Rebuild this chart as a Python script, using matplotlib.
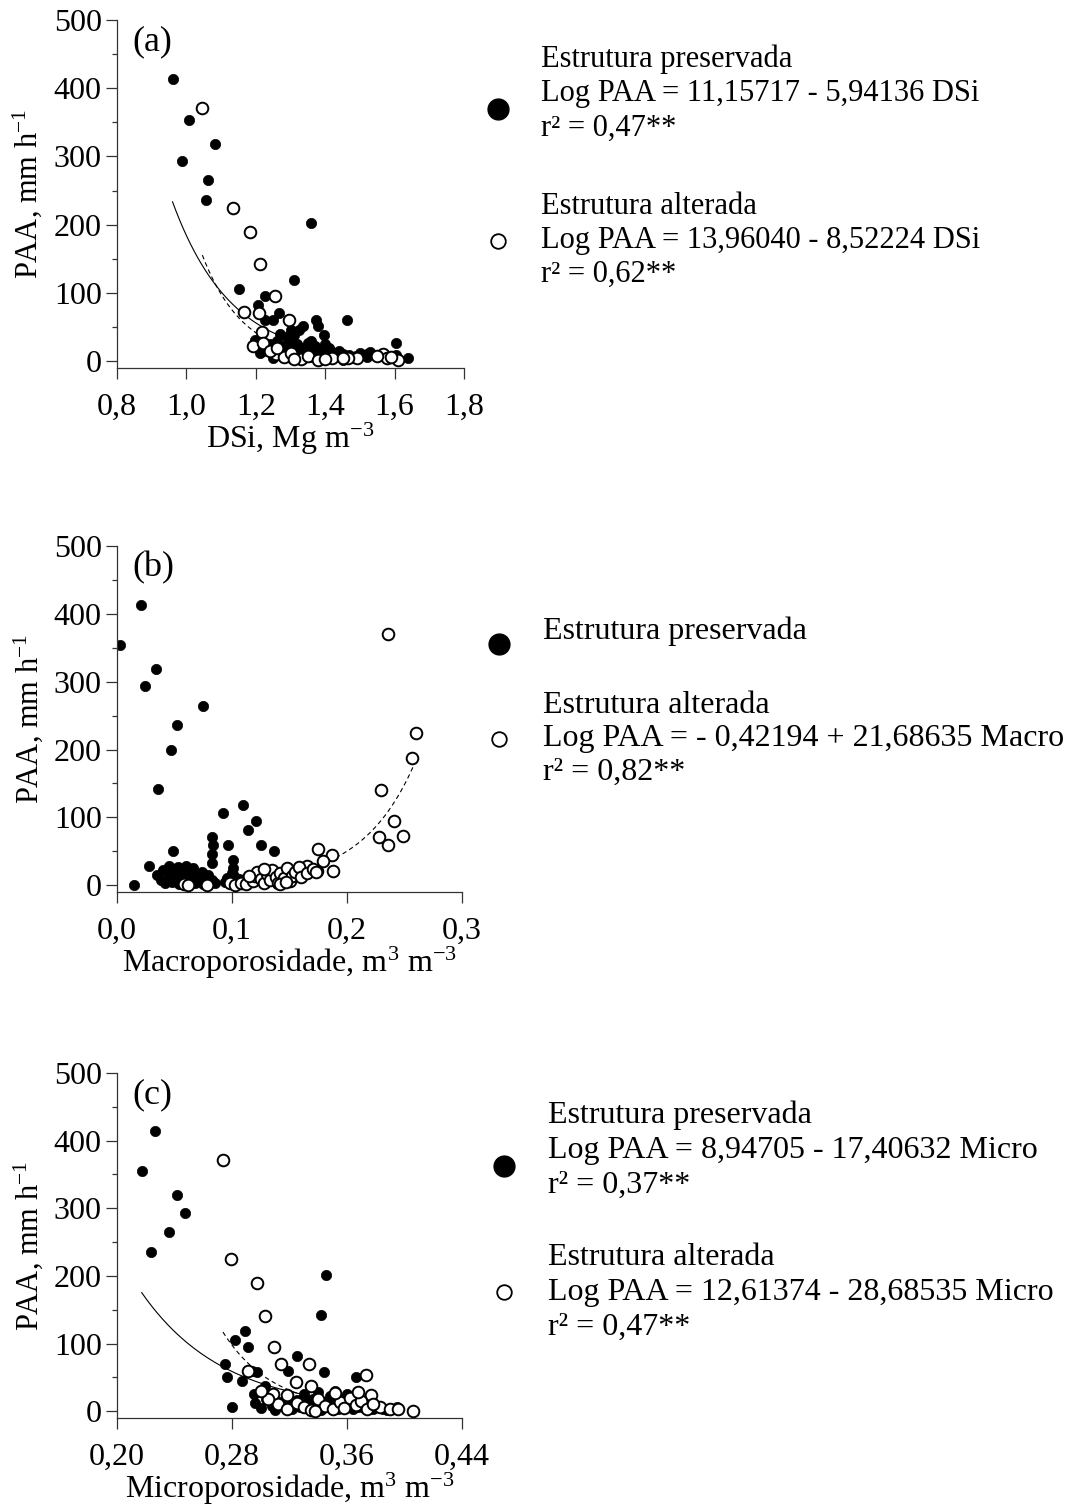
import numpy as np
import matplotlib
matplotlib.use("Agg")
import matplotlib.pyplot as plt
from matplotlib.lines import Line2D
from matplotlib.legend_handler import HandlerLine2D

plt.rcParams["font.family"] = ["Liberation Serif", "DejaVu Serif"]
plt.rcParams["mathtext.fontset"] = "custom"
plt.rcParams["mathtext.rm"] = "Liberation Serif"
plt.rcParams["mathtext.it"] = "Liberation Serif:italic"

# (a) densidade do solo - estrutura preservada
dsi_pres = [0.960, 1.007, 1.082, 0.986, 1.061, 1.056, 1.360, 1.309, 1.152, 1.226,
            1.206, 1.267, 1.462, 1.373, 1.379, 1.335, 1.325, 1.397, 1.227, 1.250,
            1.604, 1.604, 1.640, 1.299, 1.198, 1.212,
            1.24, 1.25, 1.26, 1.27, 1.28, 1.28, 1.29, 1.30, 1.30, 1.31, 1.31, 1.32,
            1.32, 1.33, 1.33, 1.34, 1.34, 1.35, 1.35, 1.36, 1.36, 1.37, 1.37, 1.38,
            1.38, 1.39, 1.39, 1.40, 1.40, 1.41, 1.41, 1.42, 1.42, 1.43, 1.44, 1.44,
            1.45, 1.46, 1.47, 1.48, 1.49, 1.50, 1.52, 1.53, 1.27, 1.29, 1.31, 1.36,
            1.40, 1.22, 1.25, 1.45, 1.30, 1.52, 1.60]
paa_a_pres = [413, 354, 319, 293, 265, 236, 202, 119, 106, 95,
              82, 71, 60, 60, 52, 51, 45, 39, 60, 60,
              27, 9, 4, 38, 31, 12,
              25, 18, 30, 12, 22, 8, 15, 28, 5, 18, 10, 25,
              3, 14, 8, 20, 4, 12, 26, 6, 16, 10, 22, 3,
              14, 8, 18, 12, 5, 20, 9, 14, 4, 10, 7, 15,
              11, 6, 9, 4, 8, 12, 6, 14, 40, 35, 38, 30,
              25, 15, 5, 2, 45, 10, 8]

# (a) densidade do solo - estrutura alterada
dsi_alt = [1.046, 1.135, 1.183, 1.211, 1.254, 1.166, 1.295, 1.209, 1.219, 1.193,
           1.567, 1.577, 1.611, 1.491, 1.467, 1.257, 1.222,
           1.24, 1.28, 1.33, 1.35, 1.38, 1.42, 1.30, 1.26, 1.40, 1.45, 1.31,
           1.55, 1.59]
paa_a_alt = [371, 225, 189, 142, 95, 72, 60, 71, 43, 22,
             10, 4, 2, 4, 4, 10, 26,
             15, 6, 3, 8, 2, 5, 12, 20, 3, 5, 3,
             7, 6]

# (b) macroporosidade - estrutura preservada
macro_pres = [0.0026, 0.0209, 0.0336, 0.0243, 0.0748, 0.0522, 0.0472, 0.0357,
              0.1098, 0.0924, 0.1211, 0.1139, 0.0823, 0.0838, 0.0968, 0.1255,
              0.1365, 0.0484, 0.0823, 0.0823, 0.1006, 0.0281, 0.0150, 0.1011,
              0.035, 0.038, 0.040, 0.042, 0.045, 0.047, 0.048, 0.050, 0.052,
              0.054, 0.055, 0.057, 0.058, 0.060, 0.062, 0.063, 0.065, 0.066,
              0.068, 0.070, 0.072, 0.074, 0.075, 0.077, 0.079, 0.080, 0.083,
              0.085, 0.045, 0.060, 0.053,
              0.094, 0.096, 0.098, 0.100, 0.102, 0.104, 0.106, 0.108, 0.110,
              0.112, 0.114, 0.100]
paa_b_pres = [354, 413, 319, 293, 264, 236, 200, 142,
              118, 106, 94, 81, 71, 59, 59, 59,
              50, 50, 46, 33, 37, 29, 0, 26,
              15, 8, 22, 3, 12, 25, 5, 18, 9,
              2, 14, 22, 6, 11, 3, 17, 8, 25,
              4, 13, 7, 20, 2, 10, 15, 5, 8,
              3, 28, 28, 27,
              5, 10, 3, 8, 14, 4, 9, 2, 6,
              10, 4, 18]

# (b) macroporosidade - estrutura alterada
macro_alt = [0.2359, 0.2597, 0.2568, 0.2296, 0.2406, 0.2278, 0.2484, 0.2359,
             0.1748, 0.1867, 0.1794, 0.1881, 0.1737, 0.165,
             0.058, 0.062, 0.078, 0.098, 0.103, 0.108, 0.112, 0.118, 0.120,
             0.122, 0.125, 0.128, 0.130, 0.133, 0.135, 0.138, 0.140, 0.142,
             0.145, 0.148, 0.150, 0.152, 0.155, 0.158, 0.160, 0.128, 0.115,
             0.165, 0.170, 0.173, 0.142, 0.147]
paa_b_alt = [370, 224, 188, 141, 94, 71, 72, 59,
             53, 45, 36, 21, 21, 29,
             2, 0, 1, 3, 1, 4, 2, 6, 14,
             20, 9, 3, 16, 8, 22, 12, 4, 18,
             10, 25, 6, 14, 20, 27, 12, 24, 13,
             18, 24, 20, 2, 5]

# (c) microporosidade - estrutura preservada
micro_pres = [0.2264, 0.2172, 0.2417, 0.2473, 0.2362, 0.2234, 0.3454, 0.3417,
              0.2890, 0.2821, 0.2911, 0.3254, 0.2749, 0.2763, 0.3187, 0.3442,
              0.3660, 0.2937, 0.2972, 0.2867, 0.3030, 0.2953, 0.2798,
              0.296, 0.300, 0.304, 0.308, 0.310, 0.313, 0.316, 0.318, 0.320,
              0.322, 0.325, 0.327, 0.330, 0.332, 0.334, 0.336, 0.338, 0.340,
              0.342, 0.344, 0.346, 0.348, 0.350, 0.352, 0.354, 0.356, 0.358,
              0.360, 0.362, 0.364, 0.366, 0.368, 0.370, 0.372, 0.375, 0.378,
              0.380, 0.385, 0.388, 0.392, 0.395]
paa_c_pres = [415, 355, 319, 293, 265, 236, 201, 142,
              119, 106, 95, 81, 70, 50, 59, 58,
              51, 59, 58, 45, 38, 26, 6,
              12, 5, 18, 8, 2, 14, 6, 22, 10,
              3, 16, 7, 25, 12, 4, 18, 9, 28,
              2, 14, 6, 22, 10, 30, 4, 16, 8,
              25, 12, 3, 18, 7, 14, 5, 10, 3,
              8, 4, 2, 3, 6]

# (c) microporosidade - estrutura alterada
micro_alt = [0.2737, 0.2795, 0.2974, 0.3027, 0.3092, 0.3139, 0.3334, 0.2909,
             0.3243, 0.3347, 0.3730, 0.3088, 0.3180, 0.3770, 0.383, 0.390,
             0.3956, 0.4061,
             0.312, 0.318, 0.325, 0.330, 0.335, 0.340, 0.345, 0.350, 0.355,
             0.358, 0.362, 0.366, 0.370, 0.374, 0.378, 0.305, 0.300, 0.338,
             0.352, 0.368]
paa_c_alt = [372, 225, 189, 141, 95, 70, 70, 59,
             43, 37, 53, 26, 24, 24, 6, 4,
             4, 1,
             10, 4, 12, 6, 2, 18, 8, 3, 14,
             5, 20, 9, 15, 4, 11, 18, 30, 0,
             27, 28]

# modelos ajustados: ln PAA = a + b x
coef_a_pres = (11.15717, -5.94136)
coef_a_alt = (13.96040, -8.52224)
coef_b_alt = (-0.42194, 21.68635)
coef_c_pres = (8.94705, -17.40632)
coef_c_alt = (12.61374, -28.68535)

xticks_a = [0.8, 1.0, 1.2, 1.4, 1.6, 1.8]
xticklabels_a = ["0,8", "1,0", "1,2", "1,4", "1,6", "1,8"]
xticks_b = [0.0, 0.1, 0.2, 0.3]
xticklabels_b = ["0,0", "0,1", "0,2", "0,3"]
xticks_c = [0.20, 0.28, 0.36, 0.44]
xticklabels_c = ["0,20", "0,28", "0,36", "0,44"]
yticks = [0, 100, 200, 300, 400, 500]

leg_a = ["Estrutura preservada\nLog PAA = 11,15717 - 5,94136 DSi\nr² = 0,47**",
         "Estrutura alterada\nLog PAA = 13,96040 - 8,52224 DSi\nr² = 0,62**"]
leg_b = ["Estrutura preservada",
         "Estrutura alterada\nLog PAA = - 0,42194 + 21,68635 Macro\nr² = 0,82**"]
leg_c = ["Estrutura preservada\nLog PAA = 8,94705 - 17,40632 Micro\nr² = 0,37**",
         "Estrutura alterada\nLog PAA = 12,61374 - 28,68535 Micro\nr² = 0,47**"]

FS = 23  # eixos
W, H = 1072, 1505
fig = plt.figure(figsize=(W / 100, H / 100), dpi=100)


class HandlerDesloc(HandlerLine2D):
    # marcador da legenda um pouco abaixo do centro do texto
    def __init__(self, dy, **kw):
        super().__init__(**kw)
        self.dy = dy

    def create_artists(self, legend, orig_handle, xdescent, ydescent, width,
                       height, fontsize, trans):
        arts = super().create_artists(legend, orig_handle, xdescent, ydescent,
                                      width, height, fontsize, trans)
        for a in arts:
            a.set_ydata(np.asarray(a.get_ydata()) - self.dy)
        return arts


def curva(ax, x, coef, ls):
    xs = np.linspace(min(x), max(x), 200)
    ax.plot(xs, np.exp(coef[0] + coef[1] * xs), color="black", lw=0.8, ls=ls,
            dashes=(4, 3) if ls == "--" else (None, None), zorder=1)


def painel(rect, xp, yp, xa, ya, curvas, xticks, xticklabels, xlabel, letra,
           legenda, leg_pos, fs_leg, ls_leg, lsp_leg):
    ax = fig.add_axes(rect)
    for x, coef, ls in curvas:
        curva(ax, x, coef, ls)
    ax.scatter(xp, yp, s=55, color="black", edgecolor="black", linewidth=0.5, zorder=2)
    ax.scatter(xa, ya, s=70, facecolor="white", edgecolor="black", linewidth=1.4, zorder=3)
    ax.set_xlim(xticks[0], xticks[-1])
    ax.set_ylim(-10, 500)
    ax.set_xticks(xticks)
    ax.set_xticklabels(xticklabels)
    ax.set_yticks(yticks)
    ax.set_yticks(np.arange(50, 500, 100), minor=True)
    ax.tick_params(axis="both", which="major", direction="out", length=8, width=0.9,
                   labelsize=FS, color="#333333")
    ax.tick_params(axis="x", which="major", pad=10)
    ax.tick_params(axis="y", which="major", pad=3)
    ax.tick_params(axis="y", which="minor", direction="out", length=3.5, width=0.9,
                   color="#333333")
    for s in ["top", "right"]:
        ax.spines[s].set_visible(False)
    for s in ["left", "bottom"]:
        ax.spines[s].set_linewidth(0.9)
        ax.spines[s].set_color("#333333")
    ax.set_ylabel(r"PAA, mm h$^{\mathrm{-1}}$", fontsize=22)
    ax.yaxis.set_label_coords(-0.21, 0.5)
    ax.set_xlabel(xlabel, fontsize=FS)
    ax.xaxis.set_label_coords(0.5, -0.152)
    ax.text(0.045, 0.985, letra, transform=ax.transAxes, fontsize=26, va="top", ha="left")
    cheio = Line2D([], [], ls="none", marker="o", markersize=15, color="black")
    vazio = Line2D([], [], ls="none", marker="o", markersize=10.5,
                   markerfacecolor="white", markeredgecolor="black",
                   markeredgewidth=1.3)
    leg = ax.legend([cheio, vazio], legenda, loc="upper left", bbox_to_anchor=leg_pos,
                    frameon=False, fontsize=fs_leg, handlelength=0.8,
                    handletextpad=1.0, labelspacing=lsp_leg, borderpad=0,
                    borderaxespad=0, handler_map={cheio: HandlerDesloc(11)})
    for t in leg.get_texts():
        t.set_linespacing(ls_leg)
    return ax


def ret(left, top, right, bottom):
    return [left / W, 1 - bottom / H, (right - left) / W, (bottom - top) / H]


painel(ret(117, 20, 464, 368), dsi_pres, paa_a_pres, dsi_alt, paa_a_alt,
       [(dsi_pres, coef_a_pres, "-"), (dsi_alt, coef_a_alt, "--")],
       xticks_a, xticklabels_a, r"DSi, Mg m$^{\mathrm{-3}}$", "(a)", leg_a,
       (1.064, 0.93), 22, 1.245, 1.6)
painel(ret(117, 546, 462, 892), macro_pres, paa_b_pres, macro_alt, paa_b_alt,
       [(macro_alt, coef_b_alt, "--")],
       xticks_b, xticklabels_b, r"Macroporosidade, m$^{\mathrm{3}}$ m$^{\mathrm{-3}}$",
       "(b)", leg_b, (1.069, 0.795), 23, 1.22, 1.38)
painel(ret(117, 1073, 462, 1418), micro_pres, paa_c_pres, micro_alt, paa_c_alt,
       [(micro_pres, coef_c_pres, "-"), (micro_alt, coef_c_alt, "--")],
       xticks_c, xticklabels_c, r"Microporosidade, m$^{\mathrm{3}}$ m$^{\mathrm{-3}}$",
       "(c)", leg_c, (1.084, 0.919), 23, 1.26, 1.36)

fig.savefig("out.png", dpi=100, facecolor="white")
